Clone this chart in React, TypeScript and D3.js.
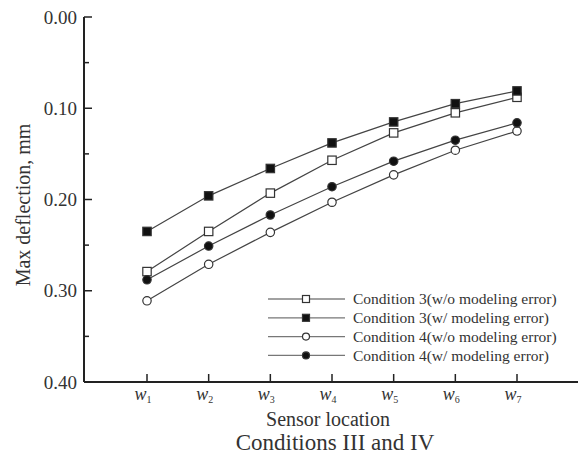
import React, { useEffect, useRef } from "react";
import * as d3 from "d3";

const sensors = ["1", "2", "3", "4", "5", "6", "7"];
const cond3NoErr = [0.279, 0.235, 0.193, 0.157, 0.127, 0.105, 0.088];
const cond3Err = [0.235, 0.196, 0.166, 0.138, 0.115, 0.095, 0.081];
const cond4NoErr = [0.311, 0.271, 0.236, 0.203, 0.173, 0.146, 0.125];
const cond4Err = [0.288, 0.251, 0.217, 0.186, 0.158, 0.135, 0.116];
const yTicks = [0, 0.1, 0.2, 0.3, 0.4];
const yMinor = [0.05, 0.15, 0.25, 0.35];

const seriesList = [
  { name: "Condition 3(w/o modeling error)", values: cond3NoErr, shape: "square", filled: false },
  { name: "Condition 3(w/ modeling error)", values: cond3Err, shape: "square", filled: true },
  { name: "Condition 4(w/o modeling error)", values: cond4NoErr, shape: "circle", filled: false },
  { name: "Condition 4(w/ modeling error)", values: cond4Err, shape: "circle", filled: true },
];

const FONT = "'Liberation Serif', 'DejaVu Serif', serif";

export default function App() {
  const ref = useRef<SVGSVGElement>(null);

  useEffect(() => {
    const svg = d3.select(ref.current);
    svg.selectAll("*").remove();

    const left = 84, right = 578, top = 17, bottom = 382;
    const x = d3.scalePoint().domain(sensors).range([147, 517]);
    const y = d3.scaleLinear().domain([0, 0.4]).range([top, bottom]);

    const g = svg.append("g");

    // axes lines
    g.append("line").attr("x1", left).attr("x2", left).attr("y1", top).attr("y2", bottom)
      .attr("stroke", "#222").attr("stroke-width", 2);
    g.append("line").attr("x1", left).attr("x2", right).attr("y1", bottom).attr("y2", bottom)
      .attr("stroke", "#222").attr("stroke-width", 2);

    // y ticks
    yTicks.forEach((t) => {
      g.append("line").attr("x1", left).attr("x2", left + 8).attr("y1", y(t)).attr("y2", y(t))
        .attr("stroke", "#222").attr("stroke-width", 1.5);
      g.append("text").attr("x", left - 7).attr("y", y(t)).attr("dy", "0.35em")
        .attr("text-anchor", "end").attr("font-family", FONT).attr("font-size", 19)
        .attr("fill", "#333").text(d3.format(".2f")(t));
    });
    yMinor.forEach((t) => {
      g.append("line").attr("x1", left).attr("x2", left + 5).attr("y1", y(t)).attr("y2", y(t))
        .attr("stroke", "#222").attr("stroke-width", 1.5);
    });

    // x ticks
    sensors.forEach((s) => {
      const px = x(s)!;
      g.append("line").attr("x1", px).attr("x2", px).attr("y1", bottom).attr("y2", bottom - 8)
        .attr("stroke", "#222").attr("stroke-width", 1.5);
      const t = g.append("text").attr("x", px - 4).attr("y", 400)
        .attr("text-anchor", "middle").attr("font-family", FONT).attr("font-size", 18)
        .attr("fill", "#333");
      t.append("tspan").attr("font-style", "italic").text("w");
      t.append("tspan").attr("font-size", 10).attr("dy", 3).text(s);
    });

    // axis titles
    g.append("text").attr("transform", "translate(30,205) rotate(-90)")
      .attr("text-anchor", "middle").attr("font-family", FONT).attr("font-size", 20)
      .attr("fill", "#333").text("Max deflection, mm");
    g.append("text").attr("x", 328).attr("y", 426).attr("text-anchor", "middle")
      .attr("font-family", FONT).attr("font-size", 20).attr("fill", "#333").text("Sensor location");
    g.append("text").attr("x", 335).attr("y", 450).attr("text-anchor", "middle")
      .attr("font-family", FONT).attr("font-size", 23).attr("fill", "#333").text("Conditions III and IV");

    const drawMarker = (sel: any, cx: number, cy: number, shape: string, filled: boolean, sz: number) => {
      if (shape === "square") {
        sel.append("rect").attr("x", cx - sz).attr("y", cy - sz).attr("width", sz * 2).attr("height", sz * 2)
          .attr("fill", filled ? "#111" : "#fff").attr("stroke", "#333").attr("stroke-width", 1.2);
      } else {
        sel.append("circle").attr("cx", cx).attr("cy", cy).attr("r", sz)
          .attr("fill", filled ? "#111" : "#fff").attr("stroke", "#333").attr("stroke-width", 1.2);
      }
    };

    const line = d3.line<number>().x((_, i) => x(sensors[i])!).y((d) => y(d));

    seriesList.forEach((s) => {
      g.append("path").attr("d", line(s.values)).attr("fill", "none")
        .attr("stroke", "#444").attr("stroke-width", 1.2);
      s.values.forEach((v, i) => drawMarker(g, x(sensors[i])!, y(v), s.shape, s.filled, 4.2));
    });

    // legend
    seriesList.forEach((s, i) => {
      const ly = 299 + i * 18.8;
      g.append("line").attr("x1", 268).attr("x2", 345).attr("y1", ly).attr("y2", ly)
        .attr("stroke", i === 0 ? "#444" : "#777").attr("stroke-width", 1.2);
      drawMarker(g, 306, ly, s.shape, s.filled, 3.5);
      g.append("text").attr("x", 353).attr("y", ly).attr("dy", "0.35em")
        .attr("font-family", FONT).attr("font-size", 15.5).attr("fill", "#333").text(s.name);
    });
  }, []);

  return <svg ref={ref} width={585} height={459} style={{ position: "absolute", left: 0, top: 0 }} />;
}
